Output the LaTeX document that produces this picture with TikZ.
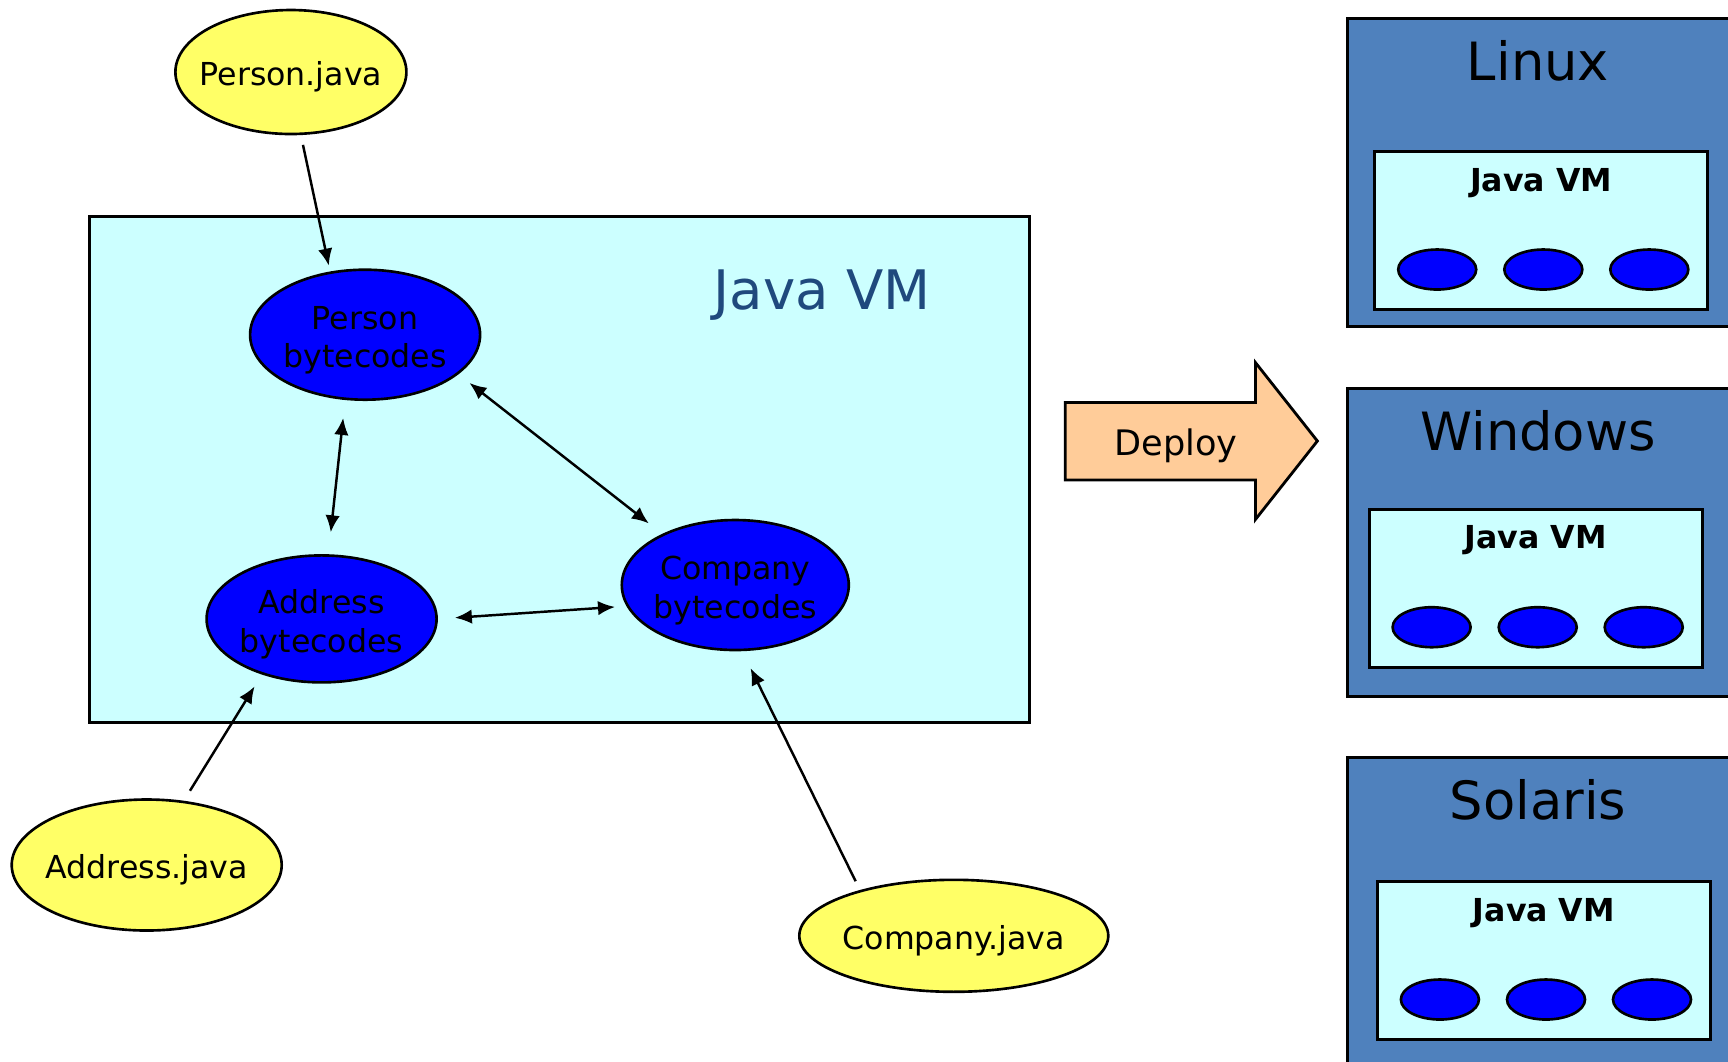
\documentclass[tikz,border=0pt]{standalone}
\usepackage{fontspec}
\setmainfont{DejaVu Sans}
\usetikzlibrary{arrows.meta,shapes.geometric}

\definecolor{srcyellow}{HTML}{FFFF66}
\definecolor{codeblue}{HTML}{0000FF}
\definecolor{vmcyan}{HTML}{CCFFFF}
\definecolor{deployorange}{HTML}{FFCC99}
\definecolor{osblue}{HTML}{4F81BD}
\definecolor{javablue}{HTML}{1F497D}

\tikzset{
  srcfile/.style={ellipse, draw, line width=0.75pt, fill=srcyellow, inner sep=0pt,
    label={[font=\fontsize{9}{11}\selectfont, yshift=-0.45mm]center:#1}},
  bytecode/.style={ellipse, draw, line width=0.75pt, fill=codeblue, inner sep=0pt,
    minimum width=2.30cm, minimum height=1.30cm,
    label={[font=\fontsize{9}{11}\selectfont, align=center, yshift=-0.55mm]center:#1}},
  vmbox/.style={rectangle, draw, line width=0.8pt, fill=vmcyan, inner sep=0pt},
  osbox/.style={rectangle, draw, line width=0.8pt, fill=osblue, inner sep=0pt,
    minimum width=4cm, minimum height=3.08cm},
  osname/.style={font=\fontsize{15}{18}\selectfont, inner sep=0pt},
  vmtitle/.style={font=\fontsize{9}{11}\selectfont\bfseries, inner sep=0pt},
  jvmobj/.style={ellipse, draw, line width=0.75pt, fill=codeblue, inner sep=0pt,
    minimum width=0.78cm, minimum height=0.40cm},
  link/.style={line width=0.7pt, -{Latex[length=1.7mm,width=1.45mm]}},
  dlink/.style={line width=0.7pt, {Latex[length=1.7mm,width=1.45mm]}-{Latex[length=1.7mm,width=1.45mm]}}
}

\begin{document}
\begin{tikzpicture}

\useasboundingbox (0,0) rectangle (17.28,-10.61);
\clip (0,0) rectangle (17.28,-10.61);

\node[vmbox, anchor=north west, minimum width=9.40cm, minimum height=5.06cm] (jvm) at (0.882,-2.149) {};
\node[font=\fontsize{15.5}{18}\selectfont, text=javablue, anchor=base, inner sep=0pt] (jvm-title) at (8.22,-3.09) {Java VM};

\node[srcfile=Person.java, minimum width=2.31cm, minimum height=1.24cm] (pjava) at (2.909,-0.720) {};
\node[srcfile=Address.java, minimum width=2.70cm, minimum height=1.31cm] (ajava) at (1.467,-8.650) {};
\node[srcfile=Company.java, minimum width=3.09cm, minimum height=1.12cm] (cjava) at (9.538,-9.358) {};

\node[bytecode={Person\\bytecodes}] (pbc) at (3.651,-3.347) {};
\node[bytecode={Address\\bytecodes}, minimum height=1.27cm] (abc) at (3.216,-6.189) {};
\node[bytecode={Company\\bytecodes}, minimum width=2.27cm] (cbc) at (7.353,-5.850) {};

\draw[link, shorten <=1mm, shorten >=0.6mm] (pjava.-81.5) -- (pbc.119.7);
\draw[dlink, shorten <=2.2mm, shorten >=1.8mm] (abc.84) -- (pbc.-107.8);
\draw[dlink, shorten <=1.4mm, shorten >=1.7mm] (pbc.-23.6) -- (cbc.145.6);
\draw[dlink, shorten <=1.7mm, shorten >=1.15mm] (abc.-0.6) -- (cbc.191.8);
\draw[link, shorten <=1.17mm, shorten >=1.39mm] (ajava.60.6) -- (abc.-137.4);
\draw[link, shorten <=0.98mm, shorten >=1.88mm] (cjava.154.3) -- (cbc.-84.9);

\draw[line width=0.8pt, fill=deployorange] (10.653,-4.025) -- (12.554,-4.025) -- (12.554,-3.625) -- (13.174,-4.41) -- (12.554,-5.195) -- (12.554,-4.80) -- (10.653,-4.80) -- cycle;
\node[font=\fontsize{10}{12}\selectfont, anchor=base, inner sep=0pt] (deploy) at (11.76,-4.554) {Deploy};

\foreach \os/\ytop/\ix/\iy in {Linux/0.173/13.733/1.500, Windows/3.867/13.677/5.077, Solaris/7.557/13.760/8.800} {
    \node[osbox, anchor=north west] (os-\os) at (13.457,-\ytop) {};
    \node[osname, anchor=base] (name-\os) at (15.38,-\ytop-0.634) {\os};
    \node[vmbox, anchor=north west, minimum width=3.33cm, minimum height=1.583cm] (vm-\os) at (\ix,-\iy) {};
    \node[vmtitle, anchor=base] (vmt-\os) at ([yshift=-4.1mm]vm-\os.north) {Java VM};
    \foreach \dx [count=\k] in {-1.04,0.021,1.081} {
        \node[jvmobj] (obj-\os-\k) at ([xshift=\dx cm, yshift=4.16mm]vm-\os.south) {};
    }
}

\end{tikzpicture}
\end{document}
